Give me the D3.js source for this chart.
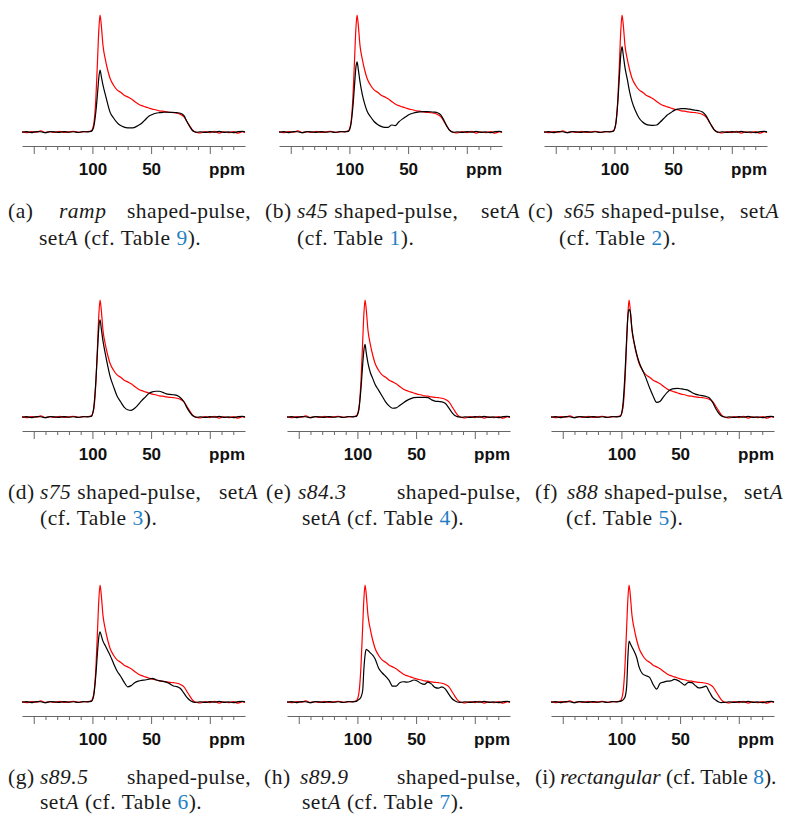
<!DOCTYPE html>
<html>
<head>
<meta charset="utf-8">
<script src="https://cdn.jsdelivr.net/npm/d3@7"></script>
<style>
  body { margin: 0; background: #fff; }
  svg { display: block; }
</style>
</head>
<body>
<svg id="chart" width="793" height="819"></svg>
<script>
// chemical shift grid (ppm), baseline left, signal band, baseline right
const ppmLeft = [160,156,152,148,144,140,136,132,128,124,120,116,112,108,104];
const ppmBand = [101,99,97,95.5,94.5,93.5,92.5,91,89,87,85,82,79,76,73,70,67,64,61,58,55,52,49,46,43,40,37,34,31,28,25,22,19.5,17,15,13,11];
const ppmRight = [8,4,0,-4,-8,-12,-16,-20,-24,-28,-30];

// baseline noise
const noiseLeftRed = [0.3,-0.6,0.4,-0.2,0.9,-0.5,0.2,-0.4,0.6,-0.3,0.1,0.5,-0.4,0.2,0.4];
const noiseLeftBlack = [-0.2,0.3,-0.5,0.4,0.2,-0.6,0.3,0.1,-0.3,0.4,-0.2,0.2,-0.3,0.3,0.1];
const noiseRightRed = [-0.8,0.3,-0.5,0.6,-0.9,0.2,-0.6,0.4,-1.0,0.3,-0.4];
const noiseRightBlack = [0.2,-0.4,0.3,-0.2,0.5,-0.3,0.1,-0.5,0.3,0.6,0.1];

// red reference spectrum (same in every panel), peak = 100
const redRef = [1,6,30,65,88,100,92,74,62,53,46,40,36,34,31.5,30,28.5,26,24,22.5,21.5,20.5,19.5,19,18,17.8,17.2,16.8,16.5,16,15,13,9,5,2,0.3,-0.3];

// black spectra, one per shaped pulse
const blackA = [0.5,4,18,35,47,53,48,40,32,24,17,12,8,5.5,4.2,3.6,3.5,4,5.5,7.5,10.5,13.5,15,16,16.5,16.8,17,16.8,16.7,16.5,16,14,9,4.5,1.5,0.2,-0.2];
const blackB = [0.5,5,22,42,55,60,54,43,32,24,18,13,9,6.5,4.8,4,4,6,5.5,8.5,11,13,15,16,16.8,17.2,17.4,17.4,17.3,17,16.5,14.5,10,5,1.8,0.3,-0.2];
const blackC = [0.5,6,27,52,67,73,66,55,45,34,26,18,12,8.5,6.5,5.8,5.6,6,8.5,11.5,14.5,16.5,18.5,19.5,20,20,19.6,19.2,18.6,18.2,17,14,9.5,5,1.8,0.3,-0.2];
const blackD = [0.5,7,32,60,77,83,76,65,54,44,35,26,18,13,8.5,6.2,5.7,7.5,10.5,14,17,20,21.5,22,22,21,19.8,19.3,19,18.5,16.5,13,8,4,1.5,0.3,-0.2];
const blackE = [0.5,5,24,45,57,62,55,46,38,33,28,23,18,13,9.5,7.5,7.8,9.8,12,14,15.5,16.5,16.8,16.8,16.7,16.5,14.8,13.6,13.3,13,11.5,7.5,4,1.2,0.3,0,-0.2];
const blackF = [0.5,8,36,68,86,92,90,75,63,54,47,40,33,25,18,12.5,13.5,17.5,21,23.5,24.3,24.4,24,23.5,22.8,21,19.6,18.8,18.2,17.5,16.3,12,7,3,1,0.2,-0.2];
const blackG = [0.5,5,24,45,56,60,57,52,48,44,40,33,26.5,22,17,13,14,16.5,17.8,18.5,18.8,19.5,20.2,19,18.2,17.6,17,15.5,13.7,13.2,11.5,7.5,4,1.5,0.3,-0.3,-0.2];
const blackH = [0.5,2,4,10,28,40,45,44,42,40,37,29,25,22,18.5,13.5,13.5,16.5,17.3,17,17.5,18.8,18,16,15,17,15.5,12.5,11.8,13,11,6.5,3,1,0,-0.3,-0.2];
const blackI = [0.5,1.5,4,14,38,52,50,47,43,38,30,24,22.5,21,15,11,16,17,17.8,18,19.3,18.5,16.5,14.5,16.8,16.5,14,12,12.5,13.5,8.5,3.5,1.5,0,-0.5,-0.3,-0.2];

const blackSeries = [blackA, blackB, blackC, blackD, blackE, blackF, blackG, blackH, blackI];

// axis ticks
const majorTicks = [150, 100, 50, 0];
const minorTicks = [140,130,120,110,90,80,70,60,40,30,20,10,-10,-20];
const tickLabels = [100, 50];

// captions: [text, x (null = continue), style]
const captions = [
  [[["(a)",8,"n"],["ramp",59,"i"],["shaped-pulse,",127,"n"]],
   [["set",39,"n"],["A",null,"i"],[" (cf. Table ",null,"n"],["9",null,"b"],[").",null,"n"]]],
  [[["(b)",265,"n"],["s45",297,"i"],[" shaped-pulse,",null,"n"],["set",481,"n"],["A",null,"i"]],
   [["(cf. Table ",297,"n"],["1",null,"b"],[").",null,"n"]]],
  [[["(c)",528,"n"],["s65",564,"i"],[" shaped-pulse,",null,"n"],["set",740,"n"],["A",null,"i"]],
   [["(cf. Table ",559,"n"],["2",null,"b"],[").",null,"n"]]],
  [[["(d)",8,"n"],["s75",40,"i"],[" shaped-pulse,",null,"n"],["set",219,"n"],["A",null,"i"]],
   [["(cf. Table ",40,"n"],["3",null,"b"],[").",null,"n"]]],
  [[["(e)",266,"n"],["s84.3",298,"i"],["shaped-pulse,",397,"n"]],
   [["set",302,"n"],["A",null,"i"],[" (cf. Table ",null,"n"],["4",null,"b"],[").",null,"n"]]],
  [[["(f)",535,"n"],["s88",567,"i"],[" shaped-pulse,",null,"n"],["set",744,"n"],["A",null,"i"]],
   [["(cf. Table ",566,"n"],["5",null,"b"],[").",null,"n"]]],
  [[["(g)",8,"n"],["s89.5",40,"i"],["shaped-pulse,",127,"n"]],
   [["set",40,"n"],["A",null,"i"],[" (cf. Table ",null,"n"],["6",null,"b"],[").",null,"n"]]],
  [[["(h)",264,"n"],["s89.9",300,"i"],["shaped-pulse,",397,"n"]],
   [["set",302,"n"],["A",null,"i"],[" (cf. Table ",null,"n"],["7",null,"b"],[").",null,"n"]]],
  [[["(i)",535,"n"],["rectangular",560,"i"],[" (cf. Table ",null,"n"],["8",null,"b"],[").",null,"n"]]]
];

// layout of the 3x3 grid
const axisLeft = [22, 279, 544, 22, 287, 551, 22, 287, 551];
const axisWidth = 223;
const rowAxisY = [146, 431, 716];
const rowCaptionY = [[218, 245], [499, 525], [784, 809]];

function buildSeries(band, noiseL, noiseR) {
  const pts = [];
  ppmLeft.forEach((p, i) => pts.push([p, noiseL[i]]));
  ppmBand.forEach((p, i) => pts.push([p, band[i]]));
  ppmRight.forEach((p, i) => pts.push([p, noiseR[i]]));
  return pts;
}

const svg = d3.select("#chart");
const redData = buildSeries(redRef, noiseLeftRed, noiseRightRed);

blackSeries.forEach((band, i) => {
  const row = Math.floor(i / 3);
  const axisY = rowAxisY[row];
  const x = d3.scaleLinear().domain([160, -30]).range([axisLeft[i], axisLeft[i] + axisWidth]);
  const base = axisY - 14;
  const y = d3.scaleLinear().domain([0, 100]).range([base, base - 117]);
  const g = svg.append("g");

  const line = d3.line()
    .x(d => x(d[0]))
    .y(d => y(d[1]))
    .curve(d3.curveMonotoneX);

  g.append("path")
    .datum(redData)
    .attr("d", line)
    .attr("fill", "none")
    .attr("stroke", "#ff0000")
    .attr("stroke-width", 1.2);

  g.append("path")
    .datum(buildSeries(band, noiseLeftBlack, noiseRightBlack))
    .attr("d", line)
    .attr("fill", "none")
    .attr("stroke", "#000")
    .attr("stroke-width", 1.2);

  // minor ticks
  const minorAxis = g.append("g")
    .attr("transform", `translate(0,${axisY})`)
    .call(d3.axisBottom(x).tickValues(minorTicks).tickSize(4).tickSizeOuter(0).tickFormat(""));
  minorAxis.select(".domain").remove();

  // major ticks + labels
  const majorAxis = g.append("g")
    .attr("transform", `translate(0,${axisY})`)
    .call(d3.axisBottom(x).tickValues(majorTicks).tickSize(8).tickSizeOuter(0).tickPadding(9)
      .tickFormat(d => tickLabels.includes(d) ? d : ""));
  majorAxis.attr("font-family", null).attr("font-size", null);
  majorAxis.selectAll("text")
    .style("font-family", "'Liberation Sans', Arial, sans-serif")
    .style("font-weight", "bold")
    .style("font-size", "17px")
    .attr("fill", "#111");

  g.selectAll(".domain, .tick line").attr("stroke", "#666").attr("stroke-width", 1);

  g.append("text")
    .attr("x", axisLeft[i] + axisWidth)
    .attr("y", axisY + 29)
    .attr("text-anchor", "end")
    .style("font-family", "'Liberation Sans', Arial, sans-serif")
    .style("font-weight", "bold")
    .style("font-size", "17px")
    .attr("fill", "#111")
    .text("ppm");

  // caption
  captions[i].forEach((segs, li) => {
    const t = svg.append("text")
      .attr("y", rowCaptionY[row][li])
      .style("font-family", "'Liberation Serif', 'DejaVu Serif', serif")
      .style("font-size", "21.5px")
      .style("letter-spacing", i === 8 ? "0px" : "0.5px")
      .attr("fill", "#1a1a1a");
    segs.forEach(([txt, sx, st]) => {
      const ts = t.append("tspan").text(txt);
      if (sx !== null) ts.attr("x", sx);
      if (st === "i") ts.style("font-style", "italic");
      if (st === "b") ts.attr("fill", "#1f7fc4");
    });
  });
});
</script>
</body>
</html>
